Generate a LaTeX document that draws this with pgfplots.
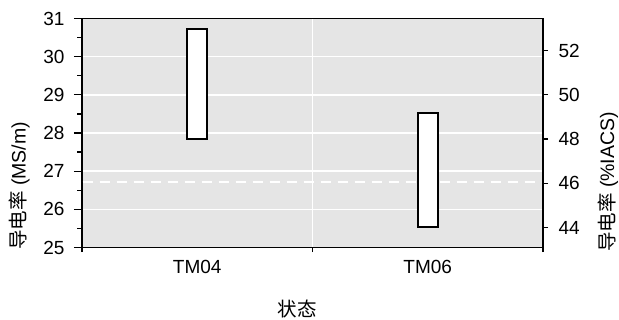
\documentclass[border=0pt]{standalone}
\usepackage{fontspec}
\setmainfont{Liberation Sans}
\newfontfamily\cjk{Noto Sans CJK SC}
\usepackage{pgfplots}
\pgfplotsset{compat=1.18}
\definecolor{bgGray}{HTML}{E5E5E5}
\begin{document}
\begin{tikzpicture}
\pgfplotsset{
  every axis/.append style={
    scale only axis, width=461bp, height=229bp,
    /pgf/number format/assume math mode=true,
    tick label style={font=\fontsize{19bp}{20bp}\selectfont},
    axis line style={line width=1.5bp},
    tick style={line width=1.3bp, black},
    tick align=outside,
  }
}
\begin{axis}[
  name=main,
  xmin=-0.5, xmax=1.5, ymin=25, ymax=31,
  axis background/.style={fill=bgGray},
  xtick={0,1}, xticklabels={TM04,TM06},
  major x tick style={draw=none},
  minor xtick={-0.5,0.5,1.5},
  xminorgrids=true,
  ytick={25,26,27,28,29,30,31},
  minor ytick={25.5,26.5,27.5,28.5,29.5,30.5},
  ymajorgrids=true,
  grid style={white, line width=1.4bp},
  minor grid style={white, line width=1.4bp},
  major tick length=8bp, minor tick length=4.5bp,
  xtick pos=bottom, ytick pos=left,
  yticklabel style={xshift=-6bp},
  xticklabel style={yshift=-1bp},
]
\addplot[white, line width=1.4bp, dash pattern=on 10bp off 7bp] coordinates {(-0.497,26.72) (1.497,26.72)};
\addplot[draw=black, fill=white, line width=1.6bp] coordinates {(-0.0434,27.84) (0.0434,27.84) (0.0434,30.73) (-0.0434,30.73)} -- cycle;
\addplot[draw=black, fill=white, line width=1.6bp] coordinates {(0.9566,25.53) (1.0434,25.53) (1.0434,28.52) (0.9566,28.52)} -- cycle;
\end{axis}
\begin{axis}[
  xmin=-0.5, xmax=1.5, ymin=43.103, ymax=53.448,
  axis x line=none, axis y line*=right,
  ytick={44,46,48,50,52},
  major tick length=5bp,
  yticklabel style={xshift=7bp},
]
\addplot[draw=none] coordinates {(0,44)};
\end{axis}
\node[rotate=90, anchor=west, inner sep=0pt, font=\fontsize{19.5bp}{21bp}\selectfont] at ([xshift=-62.5bp, yshift=-2.5bp]main.south west) {{\cjk 导电率} (MS/m)};
\node[rotate=90, anchor=west, inner sep=0pt, font=\fontsize{19.5bp}{21bp}\selectfont] at ([xshift=526bp, yshift=-4.5bp]main.south west) {{\cjk 导电率} (\%IACS)};
\node[inner sep=0pt, font=\fontsize{19.5bp}{21bp}\selectfont\cjk] at ([xshift=215bp, yshift=-62bp]main.south west) {状态};
\pgfresetboundingbox
\path ([xshift=-82bp, yshift=-72.5bp]main.south west) rectangle ([xshift=537bp, yshift=247.5bp]main.south west);
\end{tikzpicture}
\end{document}
